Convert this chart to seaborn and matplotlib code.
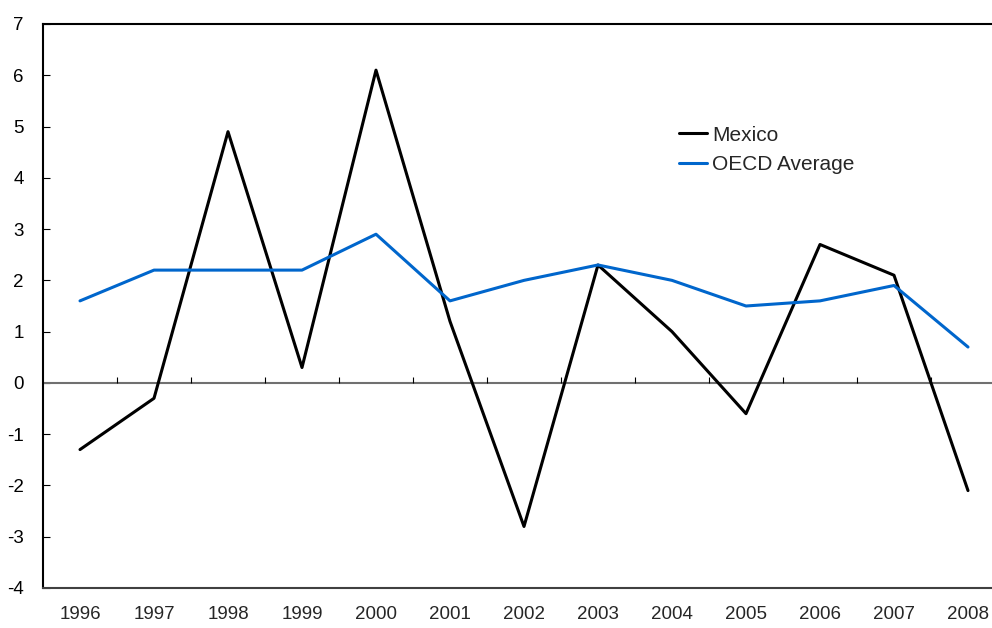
import numpy as np
import pandas as pd
import matplotlib
matplotlib.use('Agg')
import matplotlib.pyplot as plt
import seaborn as sns

# ── Data ─────────────────────────────────────────────────────────────
years = ['1996', '1997', '1998', '1999', '2000', '2001', '2002',
         '2003', '2004', '2005', '2006', '2007', '2008']
mexico = [-1.3, -0.3, 4.9, 0.3, 6.1, 1.2, -2.8, 2.3, 1.0, -0.6, 2.7, 2.1, -2.1]
oecd = [1.6, 2.2, 2.2, 2.2, 2.9, 1.6, 2.0, 2.3, 2.0, 1.5, 1.6, 1.9, 0.7]
series_names = ['Mexico', 'OECD Average']
yticks = list(range(-4, 8))

df = pd.DataFrame({
    'pos': list(range(len(years))) * 2,
    'value': mexico + oecd,
    'series': [series_names[0]] * len(years) + [series_names[1]] * len(years),
})

sns.set_style('white')
plt.rcParams['font.family'] = ['Liberation Sans', 'DejaVu Sans']
plt.rcParams['axes.unicode_minus'] = False

fig = plt.figure(figsize=(9.92, 6.28), dpi=100)
ax = fig.add_axes([43 / 992, 40 / 628, 962 / 992, 564 / 628])

sns.lineplot(data=df, x='pos', y='value', hue='series',
             palette=['#000000', '#0066CC'], linewidth=2.2, ax=ax)

# zero line with category separator ticks
ax.axhline(0, color='#707070', lw=1.5, zorder=1)
n = len(years)
ax.vlines(np.arange(n - 1) + 0.5, 0, 0.12, color='black', lw=0.8, zorder=1)

ax.set_xlim(-0.5, n - 0.5)
ax.set_ylim(yticks[0], yticks[-1])
ax.set_yticks(yticks)
ax.set_xticks(range(n))
ax.set_xticklabels(years)
ax.set_xlabel('')
ax.set_ylabel('')
ax.tick_params(axis='y', direction='in', length=5, width=0.8, left=True,
               labelsize=13.5, pad=14, colors='black')
ax.tick_params(axis='x', length=0, labelsize=13.5, pad=13)

ax.spines['right'].set_visible(False)
ax.spines['top'].set_color('black')
ax.spines['left'].set_color('black')
ax.spines['bottom'].set_color('#404040')
for s in ['top', 'left', 'bottom']:
    ax.spines[s].set_linewidth(1.5)

leg = ax.legend(loc='upper left', bbox_to_anchor=(0.661, 0.82), frameon=False,
                fontsize=15, handlelength=1.35, handletextpad=0.25,
                labelspacing=0.52, borderpad=0, borderaxespad=0)

fig.savefig('out.png', dpi=100)
